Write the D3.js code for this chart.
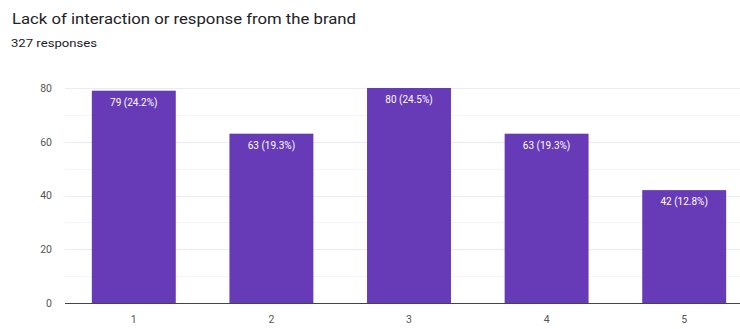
<!DOCTYPE html>
<html>
<head>
<meta charset="utf-8">
<script src="https://cdn.jsdelivr.net/npm/d3@7"></script>
<style>
  html, body { margin: 0; padding: 0; background: #fff; }
  svg { display: block; font-family: Roboto, Arial, sans-serif; }
</style>
</head>
<body>
<svg id="chart" width="740" height="329"></svg>
<script>
// Question and response count
const title = "Lack of interaction or response from the brand";
const subtitle = "327 responses";

// Rating categories and number of responses per rating
const categories = ["1", "2", "3", "4", "5"];
const counts = [79, 63, 80, 63, 42];
const percentLabels = ["24.2%", "19.3%", "24.5%", "19.3%", "12.8%"];

// Y axis ticks
const yTicks = [0, 20, 40, 60, 80];
const yGridTicks = [10, 20, 30, 40, 50, 60, 70, 80];

const svg = d3.select("#chart");
const W = 740, H = 329;
const margin = { top: 88, right: -13, bottom: 26, left: 65 };

const x = d3.scaleBand()
  .domain(categories)
  .range([margin.left, W - margin.right])
  .paddingInner(0.39)
  .paddingOuter(0.195);

const y = d3.scaleLinear()
  .domain([0, 80])
  .range([H - margin.bottom, margin.top]);

// Title block (slightly widened lettering)
svg.append("text")
  .attr("x", 12).attr("y", 24)
  .attr("fill", "#202124")
  .attr("font-size", 15.5)
  .attr("textLength", 344)
  .attr("lengthAdjust", "spacingAndGlyphs")
  .text(title);

svg.append("text")
  .attr("x", 11).attr("y", 47)
  .attr("fill", "#202124")
  .attr("font-size", 10)
  .attr("textLength", 86)
  .attr("lengthAdjust", "spacingAndGlyphs")
  .text(subtitle);

// Light horizontal gridlines
svg.append("g")
  .selectAll("line")
  .data(yGridTicks)
  .join("line")
  .attr("x1", margin.left).attr("x2", W)
  .attr("y1", d => Math.round(y(d)) + 0.5)
  .attr("y2", d => Math.round(y(d)) + 0.5)
  .attr("stroke", d => d % 20 === 0 ? "#ececec" : "#f5f5f5")
  .attr("stroke-width", 1);

// Y axis labels
const yAxis = d3.axisLeft(y).tickValues(yTicks).tickSize(0).tickPadding(13);
const yg = svg.append("g")
  .attr("transform", `translate(${margin.left},0)`)
  .call(yAxis);
yg.select(".domain").remove();
yg.selectAll("text")
  .attr("fill", "#555")
  .attr("font-size", 10.5)
  .attr("font-family", "Roboto, Arial, sans-serif");

// Bars
svg.append("g")
  .selectAll("rect")
  .data(counts)
  .join("rect")
  .attr("x", (d, i) => x(categories[i]))
  .attr("y", d => y(d))
  .attr("width", x.bandwidth())
  .attr("height", d => y(0) - y(d))
  .attr("fill", "#673ab7");

// Value labels inside the top of each bar
svg.append("g")
  .selectAll("text")
  .data(counts)
  .join("text")
  .attr("x", (d, i) => x(categories[i]) + x.bandwidth() / 2)
  .attr("y", d => y(d) + 15)
  .attr("text-anchor", "middle")
  .attr("fill", "#ffffff")
  .attr("font-size", 10)
  .text((d, i) => `${d} (${percentLabels[i]})`);

// Baseline
svg.append("line")
  .attr("x1", margin.left).attr("x2", W)
  .attr("y1", Math.round(y(0)) + 0.5)
  .attr("y2", Math.round(y(0)) + 0.5)
  .attr("stroke", "#444")
  .attr("stroke-width", 1);

// X axis labels
const xAxis = d3.axisBottom(x).tickSize(0).tickPadding(13);
const xg = svg.append("g")
  .attr("transform", `translate(0,${y(0)})`)
  .call(xAxis);
xg.select(".domain").remove();
xg.selectAll("text")
  .attr("fill", "#555")
  .attr("font-size", 10.5)
  .attr("font-family", "Roboto, Arial, sans-serif");
</script>
</body>
</html>
